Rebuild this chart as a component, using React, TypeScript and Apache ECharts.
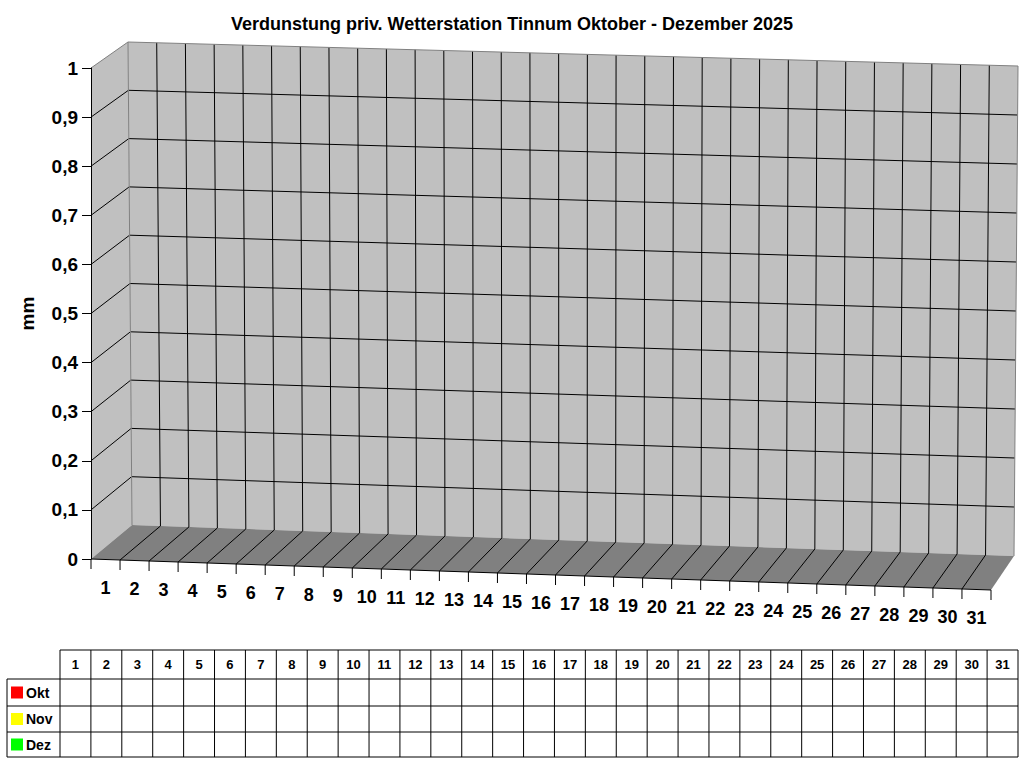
import React, { useEffect, useRef } from "react";
import * as echarts from "echarts";

// chart data
const days = [
  "1", "2", "3", "4", "5", "6", "7", "8", "9", "10", "11", "12", "13", "14", "15", "16",
  "17", "18", "19", "20", "21", "22", "23", "24", "25", "26", "27", "28", "29", "30", "31",
];
const months = ["Okt", "Nov", "Dez"];
const monthColors = ["#ff0000", "#ffff00", "#00ff00"];
// no readings recorded yet: every day is empty
const okt: (number | null)[] = [
  null, null, null, null, null, null, null, null, null, null, null, null, null, null, null, null,
  null, null, null, null, null, null, null, null, null, null, null, null, null, null, null,
];
const nov: (number | null)[] = [
  null, null, null, null, null, null, null, null, null, null, null, null, null, null, null, null,
  null, null, null, null, null, null, null, null, null, null, null, null, null, null, null,
];
const dez: (number | null)[] = [
  null, null, null, null, null, null, null, null, null, null, null, null, null, null, null, null,
  null, null, null, null, null, null, null, null, null, null, null, null, null, null, null,
];
const yTicks = [0, 0.1, 0.2, 0.3, 0.4, 0.5, 0.6, 0.7, 0.8, 0.9, 1];

const FONT = '"Liberation Sans", Arial, sans-serif';
const N = days.length;

// 3d projection built on top of the cartesian front plane
const makeProj = (api: any) => {
  const o = api.coord([0, 0]);
  const e = api.coord([N, 1]);
  const front = [o, [e[0], o[1] + 31], [o[0], e[1]], [e[0] + 2, e[1] + 26]];
  const back = [
    [o[0] + 41, o[1] - 34],
    [e[0] + 23, o[1] - 3],
    [o[0] + 37, e[1] - 26],
    [e[0] + 27, e[1] - 2],
  ];
  return (x: number, y: number, z: number) => {
    const p = api.coord([x, y]);
    const u = (p[0] - o[0]) / (e[0] - o[0]);
    const v = (p[1] - o[1]) / (e[1] - o[1]);
    const bil = (q: number[][], i: number) =>
      q[0][i] * (1 - u) * (1 - v) + q[1][i] * u * (1 - v) + q[2][i] * (1 - u) * v + q[3][i] * u * v;
    const fx = bil(front, 0), fy = bil(front, 1);
    const bx = bil(back, 0), by = bil(back, 1);
    return [fx + (bx - fx) * z, fy + (by - fy) * z];
  };
};

const seg = (a: number[], b: number[], color: string) => ({
  type: "line",
  shape: { x1: a[0], y1: a[1], x2: b[0], y2: b[1] },
  style: { stroke: color, lineWidth: 1 },
});

const renderFrame = (_params: any, api: any) => {
  const P = makeProj(api);
  const children: any[] = [];
  children.push({
    type: "polygon",
    shape: { points: [P(0, 0, 1), P(N, 0, 1), P(N, 1, 1), P(0, 1, 1)] },
    style: { fill: "#c0c0c0" },
  });
  children.push({
    type: "polygon",
    shape: { points: [P(0, 0, 0), P(0, 0, 1), P(0, 1, 1), P(0, 1, 0)] },
    style: { fill: "#c0c0c0" },
  });
  children.push({
    type: "polygon",
    shape: { points: [P(0, 0, 0), P(N, 0, 0), P(N, 0, 1), P(0, 0, 1)] },
    style: { fill: "#808080" },
  });
  yTicks.forEach((t) => {
    if (t <= 0 || t >= 1) return;
    children.push(seg(P(0, t, 1), P(N, t, 1), "#000"));
    children.push(seg(P(0, t, 0), P(0, t, 1), "#000"));
  });
  for (let k = 1; k < N; k++) {
    children.push(seg(P(k, 0, 1), P(k, 1, 1), "#000"));
    children.push(seg(P(k, 0, 0), P(k, 0, 1), "#000"));
  }
  children.push(seg(P(0, 1, 1), P(N, 1, 1), "#808080"));
  children.push(seg(P(0, 1, 0), P(0, 1, 1), "#808080"));
  children.push(seg(P(0, 0, 1), P(0, 1, 1), "#808080"));
  children.push(seg(P(N, 0, 1), P(N, 1, 1), "#808080"));
  children.push(seg(P(0, 0, 0), P(N, 0, 0), "#000"));
  for (let k = 0; k <= N; k++) {
    const a = P(k, 0, 0);
    children.push(seg(a, [a[0], a[1] + 10], "#000"));
  }
  days.forEach((d, i) => {
    const c = P(i + 0.5, 0, 0);
    children.push({
      type: "text",
      style: {
        text: d,
        x: c[0],
        y: c[1] + 28,
        align: "center",
        verticalAlign: "middle",
        fontFamily: FONT,
        fontWeight: "bold",
        fontSize: 18,
        fill: "#000",
      },
    });
  });
  return { type: "group", children };
};

const makeBarRenderer = (row: number, color: string) => (_params: any, api: any) => {
  const val = api.value(1);
  if (val == null || isNaN(val) || val <= 0) return null;
  const P = makeProj(api);
  const i = api.value(0);
  const x0 = i + 0.2, x1 = i + 0.8;
  const z0 = (row + 0.2) / months.length, z1 = (row + 0.8) / months.length;
  return {
    type: "group",
    children: [
      { type: "polygon", shape: { points: [P(x0, 0, z0), P(x1, 0, z0), P(x1, val, z0), P(x0, val, z0)] }, style: { fill: color, stroke: "#000" } },
      { type: "polygon", shape: { points: [P(x1, 0, z0), P(x1, 0, z1), P(x1, val, z1), P(x1, val, z0)] }, style: { fill: color, stroke: "#000", opacity: 0.8 } },
      { type: "polygon", shape: { points: [P(x0, val, z0), P(x1, val, z0), P(x1, val, z1), P(x0, val, z1)] }, style: { fill: color, stroke: "#000", opacity: 0.9 } },
    ],
  };
};

// data table under the chart
const tableGraphics = (rows: (number | null)[][]) => {
  const left = 60, right = 1018, labelLeft = 7;
  const rowY = [650, 679, 706, 732, 757];
  const colW = (right - left) / N;
  const els: any[] = [];
  const line = (x1: number, y1: number, x2: number, y2: number) => ({
    type: "line",
    shape: { x1, y1, x2, y2 },
    style: { stroke: "#000", lineWidth: 1 },
  });
  els.push(line(left, rowY[0], right, rowY[0]));
  for (let r = 1; r < rowY.length; r++) els.push(line(labelLeft, rowY[r], right, rowY[r]));
  els.push(line(labelLeft, rowY[1], labelLeft, rowY[4]));
  for (let k = 0; k <= N; k++) els.push(line(left + k * colW, rowY[0], left + k * colW, rowY[4]));
  days.forEach((d, i) => {
    els.push({
      type: "text",
      style: {
        text: d,
        x: left + (i + 0.5) * colW,
        y: (rowY[0] + rowY[1]) / 2,
        align: "center",
        verticalAlign: "middle",
        fontFamily: FONT,
        fontWeight: "bold",
        fontSize: 13,
        fill: "#000",
      },
    });
  });
  months.forEach((m, r) => {
    const cy = (rowY[r + 1] + rowY[r + 2]) / 2;
    els.push({ type: "rect", shape: { x: 11, y: cy - 6, width: 12, height: 12 }, style: { fill: monthColors[r] } });
    els.push({
      type: "text",
      style: { text: m, x: 26, y: cy, verticalAlign: "middle", fontFamily: FONT, fontWeight: "bold", fontSize: 14, fill: "#000" },
    });
    rows[r].forEach((v, i) => {
      if (v == null) return;
      els.push({
        type: "text",
        style: {
          text: String(v).replace(".", ","),
          x: left + (i + 0.5) * colW,
          y: cy,
          align: "center",
          verticalAlign: "middle",
          fontFamily: FONT,
          fontSize: 12,
          fill: "#000",
        },
      });
    });
  });
  return els;
};

const App: React.FC = () => {
  const chartRef = useRef<HTMLDivElement>(null);

  useEffect(() => {
    if (!chartRef.current) return;
    const chart = echarts.init(chartRef.current, undefined, { renderer: "svg" });
    const rows = [okt, nov, dez];

    const option = {
      animation: false,
      backgroundColor: "#fff",
      title: {
        text: "Verdunstung priv. Wetterstation Tinnum Oktober - Dezember 2025",
        left: "center",
        top: 10,
        textStyle: { fontFamily: FONT, fontWeight: "bold", fontSize: 18, color: "#000" },
      },
      grid: { left: 91, top: 68, width: 900, height: 491 },
      xAxis: { type: "value", min: 0, max: N, show: false },
      yAxis: {
        type: "value",
        min: 0,
        max: 1,
        interval: 0.1,
        z: 5,
        name: "mm",
        nameLocation: "middle",
        nameRotate: 90,
        nameGap: 54,
        nameTextStyle: { fontFamily: FONT, fontWeight: "bold", fontSize: 19, color: "#000" },
        axisLine: { show: true, lineStyle: { color: "#000", width: 1 } },
        axisTick: { show: true, length: 9, lineStyle: { color: "#000" } },
        axisLabel: {
          margin: 13,
          fontFamily: FONT,
          fontWeight: "bold",
          fontSize: 19,
          color: "#000",
          formatter: (v: number) => String(Math.round(v * 10) / 10).replace(".", ","),
        },
        splitLine: { show: false },
      },
      series: [
        {
          type: "custom",
          name: "frame",
          z: 1,
          silent: true,
          data: [[0, 0]],
          renderItem: renderFrame,
        },
        ...months.map((m, r) => ({
          type: "custom",
          name: m,
          z: 2,
          data: rows[r].map((v, i) => [i, v]),
          renderItem: makeBarRenderer(r, monthColors[r]),
        })),
      ],
      graphic: tableGraphics(rows),
    };

    chart.setOption(option);
    return () => {
      chart.dispose();
    };
  }, []);

  return (
    <div
      ref={chartRef}
      style={{ position: "fixed", left: 0, top: 0, width: 1024, height: 768 }}
    />
  );
};

export default App;
